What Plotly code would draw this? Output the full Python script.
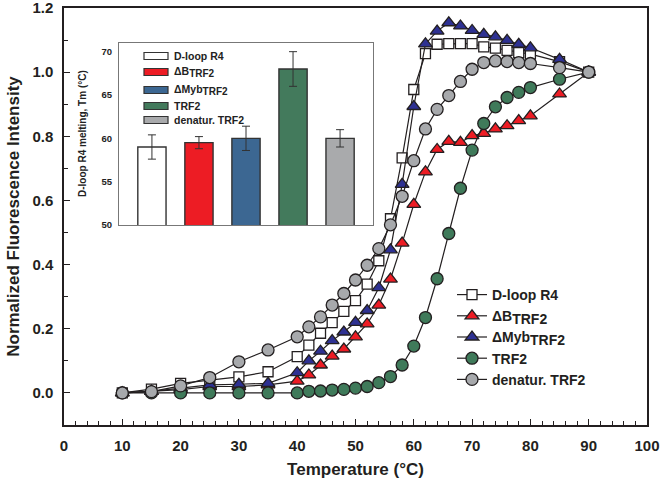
import plotly.graph_objects as go

# ---------------- data ----------------
temps = [10, 15, 20, 25, 30, 35, 40, 42, 44, 46, 48, 50, 52, 54, 56, 58, 60, 62,
         64, 66, 68, 70, 72, 74, 76, 78, 80, 85, 90]

dloop = [0.0, 0.012, 0.03, 0.04, 0.05, 0.066, 0.113, 0.149, 0.186, 0.219, 0.254, 0.288,
         0.339, 0.412, 0.543, 0.733, 0.946, 1.058, 1.087, 1.089, 1.089, 1.089, 1.079,
         1.075, 1.068, 1.061, 1.056, 1.033, 1.0]
dB = [0.0, 0.005, 0.01, 0.02, 0.02, 0.025, 0.037, 0.056, 0.087, 0.115, 0.137, 0.175,
      0.215, 0.274, 0.355, 0.467, 0.588, 0.689, 0.759, 0.784, 0.781, 0.802, 0.809,
      0.823, 0.833, 0.849, 0.864, 0.932, 1.0]
dMyb = [0.0, 0.005, 0.015, 0.025, 0.027, 0.03, 0.063, 0.1, 0.13, 0.163, 0.19, 0.22,
        0.257, 0.328, 0.446, 0.65, 0.893, 1.088, 1.128, 1.154, 1.144, 1.13, 1.118,
        1.11, 1.099, 1.087, 1.076, 1.04, 1.0]
trf2 = [0.0, 0.0, 0.0, 0.0, 0.0, 0.0, 0.0, 0.005, 0.006, 0.009, 0.011, 0.015, 0.02,
        0.032, 0.051, 0.087, 0.146, 0.235, 0.356, 0.497, 0.638, 0.757, 0.84, 0.892,
        0.921, 0.937, 0.952, 0.978, 1.0]
denat = [0.0, 0.004, 0.022, 0.048, 0.097, 0.134, 0.175, 0.206, 0.237, 0.274, 0.31, 0.352,
         0.398, 0.45, 0.524, 0.613, 0.724, 0.823, 0.884, 0.927, 0.971, 1.009, 1.03,
         1.035, 1.033, 1.03, 1.027, 1.014, 1.0]

def sub(main, s, size):
    return f"{main}<sub><span style='font-size:{size}px'>{s}</span></sub>"

series_names = ["D-loop R4", sub("ΔB", "TRF2", 14), sub("ΔMyb", "TRF2", 14), "TRF2",
                "denatur. TRF2"]

# inset bar chart
bar_labels = ["D-loop R4", sub("ΔB", "TRF2", 10), sub("ΔMyb", "TRF2", 10), "TRF2",
              "denatur. TRF2"]
tm_values = [59.0, 59.5, 60.0, 68.0, 60.0]
tm_errors = [1.4, 0.7, 1.4, 2.0, 1.0]

x_ticks = [0, 10, 20, 30, 40, 50, 60, 70, 80, 90, 100]
y_ticks = [0.0, 0.2, 0.4, 0.6, 0.8, 1.0, 1.2]
inset_ticks = [50, 55, 60, 65, 70]

# ---------------- styles ----------------
FONT = "Arial, Liberation Sans, sans-serif"
EDGE = "#231f20"
c_white, c_red, c_blue, c_green, c_grey = "#ffffff", "#ed1c24", "#2e3192", "#3f7a5a", "#a7a9ac"
bar_colors = ["#ffffff", "#ed1c24", "#3c6792", "#437a5c", "#a9aaac"]

styles = [
    dict(symbol="square", size=10, color=c_white),
    dict(symbol="triangle-up", size=12, color=c_red),
    dict(symbol="triangle-up", size=12, color=c_blue),
    dict(symbol="circle", size=12, color=c_green),
    dict(symbol="circle", size=12, color=c_grey),
]
all_series = [dloop, dB, dMyb, trf2, denat]

fig = go.Figure()
for name, ys, st in zip(series_names, all_series, styles):
    fig.add_trace(go.Scatter(
        x=temps, y=ys, name=name, mode="lines+markers",
        line=dict(color=EDGE, width=1.2),
        marker=dict(symbol=st["symbol"], size=st["size"], color=st["color"],
                    line=dict(color=EDGE, width=1.3)),
        xaxis="x", yaxis="y",
    ))

fig.add_trace(go.Bar(
    x=list(range(len(tm_values))), y=tm_values, width=0.6,
    marker=dict(color=bar_colors, line=dict(color="#333333", width=1.4)),
    error_y=dict(type="data", array=tm_errors, color="#333333", thickness=1, width=4),
    xaxis="x2", yaxis="y2", showlegend=False,
))

# pixel -> paper helpers (plot area: x 64..647, y 8..425)
L, R, T, B = 64, 647, 8, 425
def px(x):
    return (x - L) / (R - L)
def py(y):
    return (B - y) / (B - T)

# inset legend (patches + text)
shapes = []
annotations = []
leg_y = [56, 72, 90, 106, 120]
for yy, col, lab in zip(leg_y, bar_colors, bar_labels):
    shapes.append(dict(type="rect", xref="paper", yref="paper",
                       x0=px(144), x1=px(168), y0=py(yy + 3.5), y1=py(yy - 3.5),
                       fillcolor=col, line=dict(color="#333333", width=1.2)))
    annotations.append(dict(xref="paper", yref="paper", x=px(172), y=py(yy),
                            xanchor="left", yanchor="middle", text=lab, showarrow=False,
                            font=dict(family=FONT, size=10.5, color="#222", weight="bold")))

annotations.append(dict(xref="paper", yref="paper", x=px(82), y=py(134),
                        text="D-loop R4 melting, Tm (°C)", textangle=-90, showarrow=False,
                        xanchor="center", yanchor="middle",
                        font=dict(family=FONT, size=10, color="#222", weight="bold")))

fig.update_layout(
    width=661, height=489,
    margin=dict(l=L, r=661 - R, t=T, b=489 - B, autoexpand=False),
    paper_bgcolor="white", plot_bgcolor="white",
    font=dict(family=FONT, color="#231f20"),
    showlegend=True,
    legend=dict(x=px(452), y=py(279), xanchor="left", yanchor="top",
                bgcolor="rgba(0,0,0,0)", borderwidth=0,
                font=dict(family=FONT, size=14, color="#231f20", weight="bold"),
                itemwidth=30, tracegroupgap=0),
    xaxis=dict(range=[0, 100], tickvals=x_ticks, showgrid=False, zeroline=False,
               automargin=False, ticklabeloverflow="allow",
               showline=True, linecolor=EDGE, linewidth=1.5, mirror=True,
               ticks="inside", ticklen=6, tickwidth=1.2, tickcolor=EDGE,
               minor=dict(dtick=2, ticks="inside", ticklen=4, tickwidth=1, tickcolor=EDGE),
               tickfont=dict(family=FONT, size=15, weight="bold"),
               ticklabelstandoff=6,
               title=dict(text="Temperature (°C)", standoff=10,
                          font=dict(family=FONT, size=17, weight="bold"))),
    yaxis=dict(range=[-0.1, 1.2], tickvals=y_ticks, tickformat=".1f", showgrid=False,
               automargin=False, ticklabeloverflow="allow",
               zeroline=False, showline=True, linecolor=EDGE, linewidth=1.5, mirror=True,
               ticks="inside", ticklen=6, tickwidth=1.2, tickcolor=EDGE,
               minor=dict(dtick=0.1, tick0=0, ticks="inside", ticklen=4, tickwidth=1,
                          tickcolor=EDGE),
               tickfont=dict(family=FONT, size=15, weight="bold"),
               ticklabelstandoff=6,
               title=dict(text="Normalized Fluorescence Intensity", standoff=8,
                          font=dict(family=FONT, size=17, weight="bold"))),
    xaxis2=dict(domain=[px(119), px(373)], anchor="y2", range=[-0.7, 4.7],
                automargin=False,
                showticklabels=False, ticks="", showgrid=False, zeroline=False,
                showline=True, linecolor="#777", linewidth=1, mirror=True),
    yaxis2=dict(domain=[py(225), py(43)], anchor="x2", range=[50, 71],
                automargin=False,
                tickvals=inset_ticks, showgrid=False, zeroline=False,
                showline=True, linecolor="#777", linewidth=1, mirror=True,
                ticks="", tickfont=dict(family=FONT, size=9.5, weight="bold", color="#222"),
                ticklabelstandoff=4),
    shapes=shapes,
    annotations=annotations,
)

fig.write_html("out.html", config={"displayModeBar": False},
               post_script="document.body.style.margin='0px';")
